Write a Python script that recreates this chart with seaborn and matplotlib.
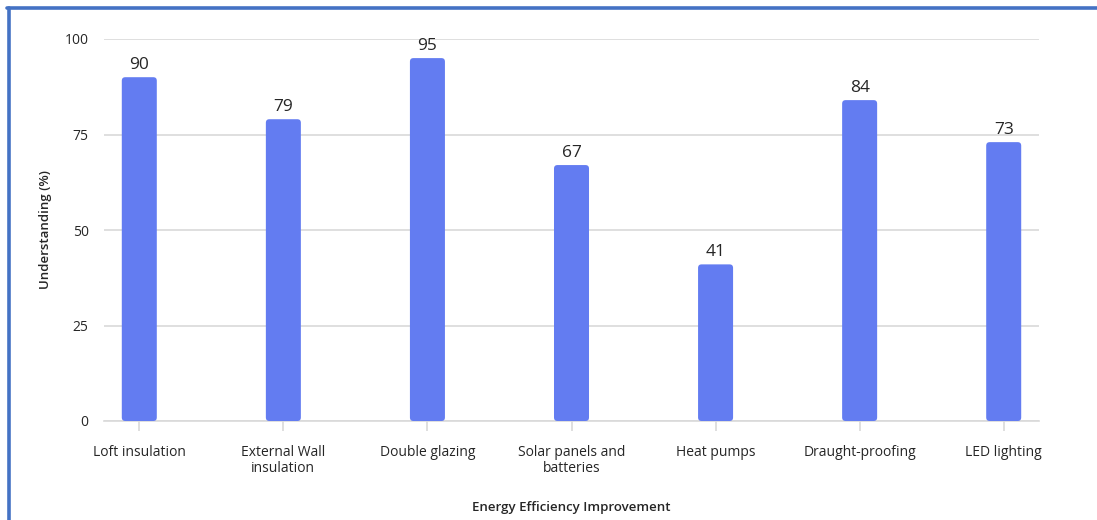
import matplotlib
matplotlib.use("Agg")
import matplotlib.pyplot as plt
from matplotlib.patches import FancyBboxPatch
import seaborn as sns
import pandas as pd

improvements = ["Loft insulation", "External Wall\ninsulation", "Double glazing",
                "Solar panels and\nbatteries", "Heat pumps", "Draught-proofing", "LED lighting"]
understanding = [90, 79, 95, 67, 41, 84, 73]
y_ticks = [0, 25, 50, 75, 100]

bar_color = "#637CF1"
text_color = "#262626"
grid_color = "#D9D9D9"

sns.set_theme(style="white")
plt.rcParams["font.family"] = ["Open Sans", "DejaVu Sans"]

df = pd.DataFrame({"improvement": improvements, "understanding": understanding})

fig = plt.figure(figsize=(10.97, 5.20), dpi=100)
ax = fig.add_axes([104 / 1097, 99 / 520, (1039 - 104) / 1097, (421 - 39) / 520])

sns.barplot(data=df, x="improvement", y="understanding", color=bar_color,
            width=0.243, saturation=1, ax=ax, zorder=3)

ax.set_ylim(0, 100)
ax.set_xlim(-0.245, len(improvements) - 1 + 0.245)

# swap the plain rectangles for slightly rounded ones
x_px = (1039 - 104) / (len(improvements) - 1 + 0.49)
y_px = (421 - 39) / 100
radius_x = 3.5 / x_px
aspect = (3.5 / y_px) / radius_x
for p in list(ax.patches):
    x, y = p.get_x(), p.get_y()
    w, h = p.get_width(), p.get_height()
    rp = FancyBboxPatch((x, y), w, h,
                        boxstyle=f"round,pad=0,rounding_size={radius_x}",
                        mutation_aspect=aspect, facecolor=bar_color,
                        edgecolor="none", zorder=3)
    p.remove()
    ax.add_patch(rp)

for i, v in enumerate(understanding):
    ax.annotate(f"{v}", (i, v), xytext=(0, 3), textcoords="offset points",
                ha="center", va="bottom", fontsize=12.5, color=text_color,
                fontweight="medium")

ax.set_yticks(y_ticks)
ax.set_yticklabels([str(t) for t in y_ticks], fontsize=10, color=text_color,
                   fontweight="medium")
ax.yaxis.grid(True, color=grid_color, linewidth=1.2, zorder=0)
ax.set_axisbelow(True)
ax.tick_params(axis="y", length=0, pad=11)
ax.tick_params(axis="x", length=7, width=1.2, color=grid_color, pad=10,
               labelsize=10, labelcolor=text_color, bottom=True)
ax.set_xticks(range(len(improvements)))
ax.set_xticklabels(improvements, linespacing=1.1, fontweight="medium")

for s in ["top", "right", "left"]:
    ax.spines[s].set_visible(False)
ax.spines["bottom"].set_color(grid_color)
ax.spines["bottom"].set_linewidth(1.2)

ax.set_xlabel("Energy Efficiency Improvement", fontsize=9.5, color=text_color,
              fontweight="semibold", labelpad=18)
ax.set_ylabel("Understanding (%)", fontsize=9.5, color=text_color,
              fontweight="semibold", labelpad=9)

# frame lines along the left and top edges
fig.add_artist(plt.Line2D([8.5 / 1097, 8.5 / 1097], [0, 1 - 7.5 / 520],
                          transform=fig.transFigure, color="#4472C4", linewidth=2.6))
fig.add_artist(plt.Line2D([7.2 / 1097, 1], [1 - 7.5 / 520, 1 - 7.5 / 520],
                          transform=fig.transFigure, color="#4472C4", linewidth=2.6))

fig.savefig("out.png", dpi=100)
